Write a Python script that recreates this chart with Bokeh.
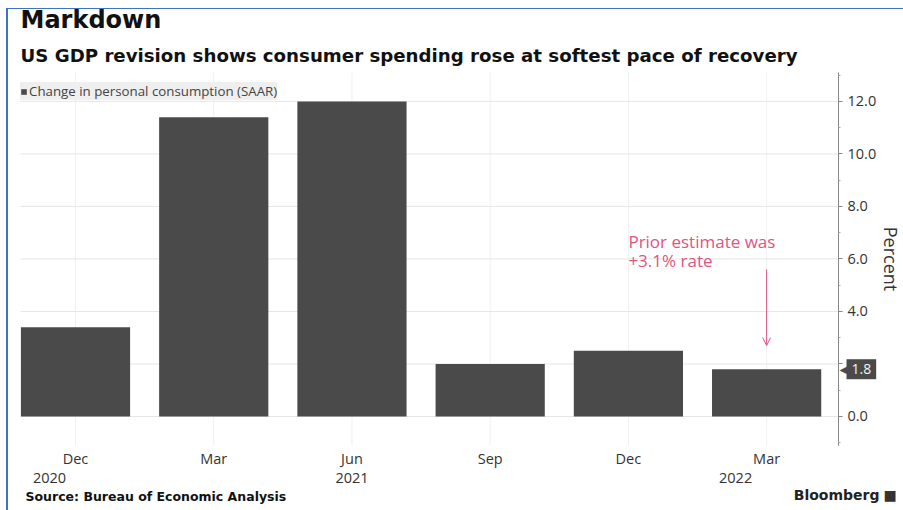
from bokeh.plotting import figure
from bokeh.models import (Range1d, FixedTicker, Label, Arrow, OpenHead, LinearAxis,
                          PrintfTickFormatter, ColumnDataSource)
from bokeh.embed import file_html
from bokeh.resources import INLINE

# ---- data ----
categories = ["Dec 2020", "Mar 2021", "Jun 2021", "Sep 2021", "Dec 2021", "Mar 2022"]
month_labels = ["Dec", "Mar", "Jun", "Sep", "Dec", "Mar"]
year_index = [0, 2, 5]
year_labels = ["2020", "2021", "2022"]
consumption = [3.4, 11.4, 12.0, 2.0, 2.5, 1.8]
y_ticks = [0, 2, 4, 6, 8, 10, 12]
minor_y_ticks = [-1, 1, 3, 5, 7, 9, 11, 13]
latest_value = consumption[-1]
note_index = 4
note_text = "Prior estimate was\n+3.1% rate"
arrow_index = 5
arrow_from, arrow_to = 5.6, 2.7

# ---- styling / layout ----
BAR = "#4a4a4a"
PINK = "#dd5580"
TXT = "#333333"
BLUE = "#3c74c0"
FONT = "Open Sans"
HFONT = "DejaVu Sans"

W, H = 903, 510
# plot area (pixels on the page)
PL, PR, PT, PB = 20, 838, 72, 445
X0, X1 = -0.398, 5.52          # data range of plot area
Y0, Y1 = -1.105, 13.1
KX = (PR - PL) / (X1 - X0)
KY = (PB - PT) / (Y1 - Y0)

idx = list(range(len(categories)))
src = ColumnDataSource(data=dict(x=idx, top=consumption, cat=categories))

bg = (f"linear-gradient({BLUE},{BLUE}) 6px 8px / 2px {H - 8}px no-repeat, "
      f"linear-gradient({BLUE},{BLUE}) 6px 8px / {W - 6}px 1px no-repeat, white")

p = figure(width=W, height=H, output_backend="svg", toolbar_location=None,
           x_range=Range1d(X0 - PL / KX, X1 + (W - PR) / KX),
           y_range=Range1d(Y0 - (H - PB) / KY, Y1 + PT / KY),
           min_border=0, min_border_left=0, min_border_right=0,
           min_border_top=0, min_border_bottom=0,
           x_axis_location=None, y_axis_location=None,
           background_fill_color=None, border_fill_color=None,
           outline_line_color=None,
           styles={"background": bg})
p.title.visible = False
p.xgrid.visible = False
p.ygrid.visible = False

# grid lines drawn inside the plot area only
p.segment(x0=idx, x1=idx, y0=[Y0] * len(idx), y1=[Y1] * len(idx),
          line_color="#f0f0f0", line_width=1)
p.segment(x0=[X0] * len(y_ticks), x1=[X1] * len(y_ticks), y0=y_ticks, y1=y_ticks,
          line_color="#e6e6e6", line_width=1)

p.vbar(x="x", top="top", width=0.79, source=src, fill_color=BAR, line_color=None,
       legend_label="Change in personal consumption (SAAR)")

# x axis (months)
xa = LinearAxis(fixed_location=Y0, bounds=(X0, X1))
xa.ticker = FixedTicker(ticks=idx)
xa.major_label_overrides = {i: m for i, m in zip(idx, month_labels)}
xa.axis_line_color = None
xa.major_tick_line_color = None
xa.minor_tick_line_color = None
xa.major_tick_in = 0
xa.major_tick_out = 0
xa.major_label_standoff = 3
xa.major_label_text_font = FONT
xa.major_label_text_font_size = "14.5px"
xa.major_label_text_color = TXT
p.add_layout(xa, "below")

# y axis (right)
ya = LinearAxis(fixed_location=X1, bounds=(Y0, Y1))
ya.ticker = FixedTicker(ticks=y_ticks, minor_ticks=minor_y_ticks)
ya.formatter = PrintfTickFormatter(format="%.1f")
ya.major_label_overrides = {2: ""}
ya.axis_line_color = "#888888"
ya.major_tick_line_color = "#888888"
ya.minor_tick_line_color = "#aaaaaa"
ya.major_tick_in = 0
ya.major_tick_out = 4
ya.minor_tick_in = 0
ya.minor_tick_out = 2
ya.major_label_standoff = 5
ya.major_label_text_font = FONT
ya.major_label_text_font_size = "14.5px"
ya.major_label_text_color = TXT
ya.axis_label = "Percent"
ya.axis_label_text_font = FONT
ya.axis_label_text_font_style = "normal"
ya.axis_label_text_font_size = "18px"
ya.axis_label_text_color = TXT
ya.axis_label_standoff = 0
p.add_layout(ya, "right")

# legend
lg = p.legend[0]
lg.location = (PL, H - 100)
lg.margin = 0
lg.padding = 8
lg.background_fill_color = "#efefef"
lg.background_fill_alpha = 1
lg.border_line_color = None
lg.glyph_width = 7
lg.glyph_height = 7
lg.label_standoff = 2
lg.label_text_font = FONT
lg.label_text_font_size = "13.3px"
lg.label_text_color = "#444444"
lg.label_height = 6


def screen_label(x, y_top, text, **kw):
    # x, y_top: pixel position on the page (y measured from top)
    p.add_layout(Label(x=x, y=H - y_top, x_units="screen", y_units="screen",
                       text=text, text_baseline="middle", **kw))


# year labels under months
for i, yl, off in zip(year_index, year_labels, [-26, 0, -31]):
    p.add_layout(Label(x=i, y=H - 477, y_units="screen", x_offset=off, text=yl,
                       text_align="center", text_baseline="middle",
                       text_font=FONT, text_font_size="14.5px", text_color=TXT))

# headline & subtitle
screen_label(PL, 19, "Markdown", text_font=HFONT, text_font_style="bold",
             text_font_size="24px", text_color="#111111")
screen_label(PL, 55, "US GDP revision shows consumer spending rose at softest pace of recovery",
             text_font=HFONT, text_font_style="bold", text_font_size="18.2px",
             text_color="#111111")
# source & brand
screen_label(25, 496, "Source: Bureau of Economic Analysis", text_font=HFONT,
             text_font_style="bold", text_font_size="12.5px", text_color="#111111")
screen_label(879, 494, "Bloomberg", text_align="right", text_font=HFONT,
             text_font_style="bold", text_font_size="14px", text_color="#222222")
screen_label(883, 494, "\u25A0", text_align="left", text_font=HFONT,
             text_font_size="14px", text_color="#333333")

# latest value tag
p.add_layout(Label(x=X1, y=latest_value, x_offset=1, text="\u25C0",
                   text_align="left", text_baseline="middle",
                   text_font=HFONT, text_font_size="10px", text_color=BAR))
p.add_layout(Label(x=X1, y=latest_value, x_offset=8, text=f"{latest_value:.1f}",
                   text_align="left", text_baseline="middle",
                   text_font=FONT, text_font_size="14px", text_color="#f2f2f2",
                   background_fill_color=BAR, padding=5))

# annotation
p.add_layout(Label(x=note_index, y=7.1, text=note_text,
                   text_align="left", text_baseline="top", text_line_height=0.82,
                   text_font=FONT, text_font_size="17px", text_color=PINK))
p.add_layout(Arrow(x_start=arrow_index, y_start=arrow_from, x_end=arrow_index, y_end=arrow_to,
                   line_color=PINK, line_width=1,
                   end=OpenHead(size=8, line_color=PINK, line_width=1)))

open("out.html", "w").write(file_html(p, INLINE))
